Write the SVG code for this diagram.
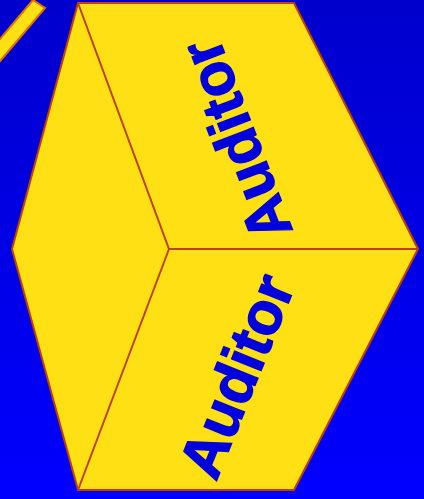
<svg xmlns="http://www.w3.org/2000/svg" width="424" height="499" viewBox="0 0 424 499">
<defs>
<linearGradient id="bg" x1="0" y1="0" x2="0" y2="1">
<stop offset="0" stop-color="#0000CC"/>
<stop offset="1" stop-color="#0000FF"/>
</linearGradient>
</defs>
<style>
.face{fill:#FFE014;stroke:#C04000;stroke-width:2;stroke-linejoin:round}
.lbl{font-family:"Liberation Sans",Arial,sans-serif;font-weight:bold;font-size:60px;fill:#0000DD;stroke:#0000DD;stroke-width:1.5}
</style>
<rect x="0" y="0" width="424" height="499" fill="url(#bg)"/>
<g id="bar">
<polygon points="33,0 45,8 -5,67 -17,59" fill="#FFE014" stroke="#E07000" stroke-width="2"/>
</g>
<g id="cube">
<polygon class="face" points="78,3 294,3 418,249 294,490 78,490 12,249"/>
</g>
<g id="connectors">
<polyline points="78,3 169,249 418,249" fill="none" stroke="#C04000" stroke-width="2"/>
<line x1="169" y1="249" x2="78" y2="490" stroke="#C04000" stroke-width="2"/>
</g>
<g id="top-face">
<text class="lbl" transform="translate(293,231) rotate(-111)" x="0" y="0" textLength="210" lengthAdjust="spacingAndGlyphs">Auditor</text>
</g>
<g id="bottom-face">
<text class="lbl" transform="translate(216,482) rotate(-68)" x="0" y="0" textLength="212" lengthAdjust="spacingAndGlyphs">Auditor</text>
</g>
</svg>
